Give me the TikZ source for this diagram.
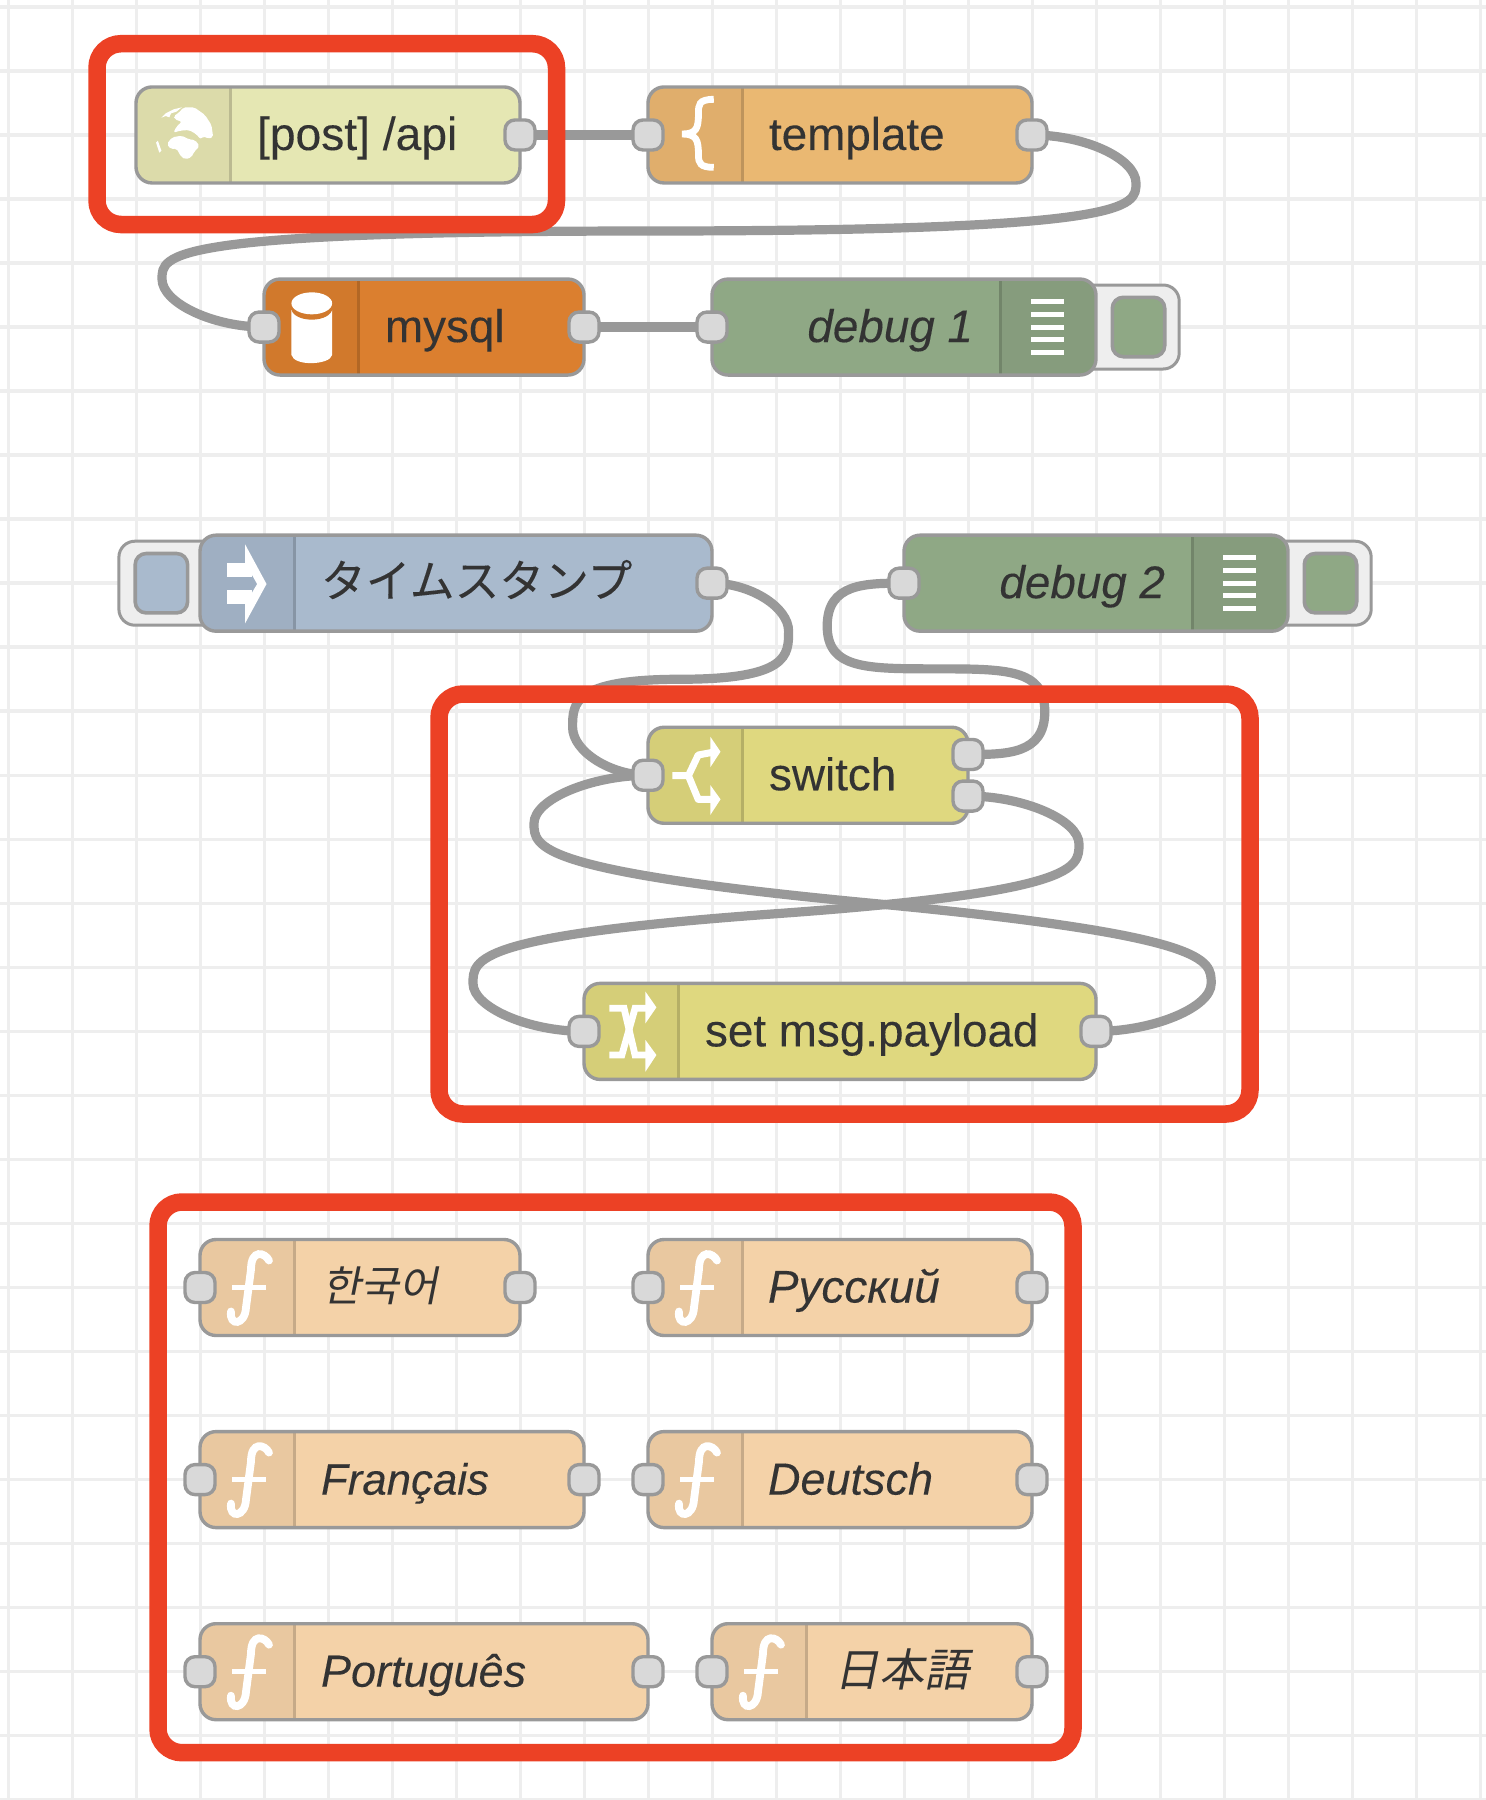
\documentclass[tikz,border=0pt]{standalone}
\usepackage{fontspec}
\setmainfont[FakeBold=0.15]{Liberation Sans}
\newfontfamily\jpfont[FakeBold=0.1]{Noto Sans CJK JP}
\newfontfamily\jpslant[FakeSlant=0.2]{Noto Sans CJK JP}
\newfontfamily\krslant[FakeSlant=0.2]{Noto Sans CJK KR}
\pgfdeclarelayer{gridlayer}\pgfdeclarelayer{wirelayer}\pgfdeclarelayer{toplayer}
\pgfsetlayers{gridlayer,wirelayer,main,toplayer}
\definecolor{gridc}{HTML}{EEEEEE}
\definecolor{linec}{HTML}{999999}
\definecolor{portc}{HTML}{D9D9D9}
\definecolor{redc}{HTML}{EC4125}
\definecolor{textc}{HTML}{333333}
\definecolor{apiB}{HTML}{E5E7B3}\definecolor{apiI}{HTML}{DCDBAA}
\definecolor{tplB}{HTML}{EAB872}\definecolor{tplI}{HTML}{E0AE6C}
\definecolor{sqlB}{HTML}{DB7F2F}\definecolor{sqlI}{HTML}{D1792C}
\definecolor{dbgB}{HTML}{8FA885}\definecolor{dbgI}{HTML}{869C7D}
\definecolor{injB}{HTML}{A9BACD}\definecolor{injI}{HTML}{9FAFC2}
\definecolor{swB}{HTML}{DFD87F}\definecolor{swI}{HTML}{D5CE78}
\definecolor{fnB}{HTML}{F4D2A8}\definecolor{fnI}{HTML}{E9C8A0}
\tikzset{
  gridline/.style={draw=gridc,line width=1.75pt},
  nodebody/.style={rectangle,rounded corners=8pt,minimum height=48pt,inner sep=0pt,outer sep=0pt},
  nodeedge/.style={draw=linec,line width=1.7pt,rounded corners=8pt},
  port/.style={rectangle,draw=linec,fill=portc,line width=1.7pt,rounded corners=5pt,minimum width=15pt,minimum height=15pt,inner sep=0pt,outer sep=0pt},
  wire/.style={draw=linec,line width=4.6pt},
  redbox/.style={rectangle,draw=redc,line width=8.75pt,rounded corners=12pt,inner sep=0pt,outer sep=0pt},
  btnouter/.style={rectangle,draw=linec,fill=gridc,line width=1.5pt,rounded corners=8pt,minimum height=42pt,inner sep=0pt,outer sep=0pt},
  btninner/.style={rectangle,draw=linec,line width=1.8pt,rounded corners=5.5pt,minimum height=29.7pt,minimum width=26.2pt,inner sep=0pt,outer sep=0pt},
  lab/.style={text=textc,font=\fontsize{22.9}{27}\selectfont,inner sep=0pt,outer sep=0pt},
  lablit/.style={lab,font=\fontsize{22.5}{27}\selectfont\itshape},
  iconw/.style={draw=white,line width=3.2pt},
}
\newcommand{\nrgeom}[3]{%
  \pgfmathsetmacro\nL{8+64*#1}\pgfmathsetmacro\nR{8+64*#2}\pgfmathsetmacro\nY{6.9+64.03*#3}%
  \pgfmathsetmacro\nW{(\nR-\nL)*0.5}\pgfmathsetmacro\nC{(\nL+\nR)/2}%
  \pgfmathsetmacro\nT{\nY-48}\pgfmathsetmacro\nB{\nY+48}}
\newcommand{\nrnode}[6]{%
  \nrgeom{#2}{#3}{#4}%
  \node[nodebody,fill=#5,minimum width=\nW pt] (#1) at (\nC,\nY) {};
  \pgfmathsetmacro\nS{\nL+94.5}\pgfmathsetmacro\nE{\nL+140}%
  \begin{scope}\clip (\nL,\nT) rectangle (\nS,\nB);
    \fill[#6,rounded corners=8pt] (\nL,\nT) rectangle (\nE,\nB);\end{scope}
  \draw[#6!85!black,line width=1.5pt] (\nS,\nT) -- (\nS,\nB);
  \draw[nodeedge] (\nL,\nT) rectangle (\nR,\nB);
}
\newcommand{\nrnodeR}[6]{%
  \nrgeom{#2}{#3}{#4}%
  \node[nodebody,fill=#5,minimum width=\nW pt] (#1) at (\nC,\nY) {};
  \pgfmathsetmacro\nS{\nR-95.5}\pgfmathsetmacro\nE{\nR-140}%
  \begin{scope}\clip (\nS,\nT) rectangle (\nR,\nB);
    \fill[#6,rounded corners=8pt] (\nE,\nT) rectangle (\nR,\nB);\end{scope}
  \draw[#6!85!black,line width=1.5pt] (\nS,\nT) -- (\nS,\nB);
  \draw[nodeedge] (\nL,\nT) rectangle (\nR,\nB);
}
\newcommand{\nrfunc}[1]{%
  \begin{scope}[shift={(#1.west)}]
    \draw[draw=white,line width=3.9pt,line cap=round] (69,-27) .. controls (65,-35) and (51,-39) .. (51,-18) -- (46,20) .. controls (45,38) and (29,39) .. (31,24);
    \draw[draw=white,line width=2.4pt] (32,0) -- (66,0);
  \end{scope}}
\newcommand{\nrdebug}[1]{%
  \begin{scope}[shift={(#1.east)}]
    \foreach \b in {-25.4,-12.7,0,12.7,25.4}{\fill[white] (-65,\b-2.5) rectangle (-32,\b+2.5);}
  \end{scope}}
\begin{document}
\begin{tikzpicture}[x=0.5pt,y=-0.5pt]
\useasboundingbox (0,0) rectangle (1486,1800);
\begin{pgfonlayer}{gridlayer}
  \fill[white] (0,0) rectangle (1486,1800);
  \foreach \k in {0,...,23}{\draw[gridline] ({8.5+64.0*\k},0) -- ({8.5+64.0*\k},1800);}
  \foreach \j in {0,...,28}{\draw[gridline] (0,{6.9+64.03*\j}) -- (1486,{6.9+64.03*\j});}
\end{pgfonlayer}

% buttons
\node[btnouter,minimum width=51.5pt] (dbg1-btn) at (1127.7,327) {};
\node[btnouter,minimum width=51.5pt] (dbg2-btn) at (1319.7,583.2) {};
\node[btnouter,minimum width=51.5pt] (inj-btn) at (170.4,583.2) {};
\node[btninner,fill=dbgB] (dbg1-led) at (1138.5,327) {};
\node[btninner,fill=dbgB] (dbg2-led) at (1330.5,583.2) {};
\node[btninner,fill=injB] (inj-led) at (161.4,583.2) {};

% nodes
\nrnode{api}{2}{8}{2}{apiB}{apiI}
\nrnode{tpl}{10}{16}{2}{tplB}{tplI}
\nrnode{sql}{4}{9}{5}{sqlB}{sqlI}
\nrnodeR{dbg1}{11}{17}{5}{dbgB}{dbgI}
\nrnode{inj}{3}{11}{9}{injB}{injI}
\nrnodeR{dbg2}{14}{20}{9}{dbgB}{dbgI}
\nrnode{sw}{10}{15}{12}{swB}{swI}
\nrnode{set}{9}{17}{16}{swB}{swI}
\nrnode{fko}{3}{8}{20}{fnB}{fnI}
\nrnode{fru}{10}{16}{20}{fnB}{fnI}
\nrnode{ffr}{3}{9}{23}{fnB}{fnI}
\nrnode{fde}{10}{16}{23}{fnB}{fnI}
\nrnode{fpt}{3}{10}{26}{fnB}{fnI}
\nrnode{fja}{11}{16}{26}{fnB}{fnI}

% icons
\begin{scope}[shift={(80,20)},xscale=0.35714,yscale=0.33333]
  % globe
  \fill[white,rounded corners=1pt] (290,262) -- (320,262) -- (350,285) -- (368,315) -- (373,352) -- (358,356) -- (345,348) -- (338,358) -- (325,342) -- (305,330) -- (280,332) -- (262,338) -- (270,320) -- (285,305) -- (265,298) -- (262,288) -- (275,280) -- cycle;
  \fill[white,rounded corners=1pt] (243,372) -- (258,352) -- (285,347) -- (305,358) -- (322,360) -- (335,378) -- (320,395) -- (312,412) -- (295,418) -- (283,410) -- (270,385) -- (255,388) -- cycle;
  \fill[white] (228,293) -- (240,280) -- (262,268) -- (285,262) -- (270,275) -- (255,280) -- (250,292) -- (240,288) -- cycle;
  \fill[white] (213,368) -- (218,362) -- (228,392) -- (222,398) -- cycle;
  % cylinder
  \fill[white] (592,870) -- (592,1005) .. controls (600,1040) and (700,1035) .. (706,1005) -- (706,870) -- cycle;
  \fill[sqlI] (649,866) ellipse [x radius=57,y radius=33];
  \fill[white] (649,850) ellipse [x radius=57,y radius=33];
\end{scope}
\begin{scope}[shift={(620,60)},xscale=0.3827,yscale=0.33333]
  \draw[iconw,line width=3.4pt] (245,118) .. controls (205,118) and (205,135) .. (205,160) .. controls (205,205) and (200,222) .. (162,222) .. controls (200,222) and (205,240) .. (205,285) .. controls (205,310) and (210,322) .. (245,322);
\end{scope}
\nrdebug{dbg1}
\nrdebug{dbg2}
\begin{scope}[shift={(100,510)},xscale=0.44643,yscale=0.33333]
  \fill[white] (285,158) rectangle (340,200);
  \fill[white] (285,240) rectangle (340,283);
  \fill[white] (325,103) -- (373,222) -- (325,340) -- (325,283) -- (352,222) -- (325,158) -- cycle;
  % switch
  \draw[iconw,line width=3.5pt,line join=round] (1282,797) -- (1318,797) -- (1340,735) -- (1372,727);
  \draw[iconw,line width=3.5pt,line join=round] (1318,797) -- (1340,868) -- (1372,868);
  \fill[white] (1367,680) -- (1390,725) -- (1367,772) -- cycle;
  \fill[white] (1367,825) -- (1390,868) -- (1367,915) -- cycle;
\end{scope}
\begin{scope}[shift={(420,880)},xscale=0.54855,yscale=0.33333]
  \draw[iconw,line width=3.4pt] (345,385) -- (372,385) -- (392,525) -- (415,525);
  \draw[iconw,line width=3.4pt] (345,525) -- (368,525) -- (392,385) -- (415,385);
  \fill[white] (411,335) -- (431,382) -- (411,430) -- cycle;
  \fill[white] (411,480) -- (431,525) -- (411,575) -- cycle;
\end{scope}
\nrfunc{fko}\nrfunc{fru}\nrfunc{ffr}\nrfunc{fde}\nrfunc{fpt}\nrfunc{fja}

% ports
\node[port] (api-out) at (api.east) {};
\node[port] (tpl-in) at (tpl.west) {};
\node[port] (tpl-out) at (tpl.east) {};
\node[port] (sql-in) at (sql.west) {};
\node[port] (sql-out) at (sql.east) {};
\node[port] (dbg1-in) at (dbg1.west) {};
\node[port] (inj-out) at (inj.east) {};
\node[port] (dbg2-in) at (dbg2.west) {};
\node[port] (sw-in) at (sw.west) {};
\node[port] (sw-outa) at ([yshift=10.4pt]sw.east) {};
\node[port] (sw-outb) at ([yshift=-10.4pt]sw.east) {};
\node[port] (set-in) at (set.west) {};
\node[port] (set-out) at (set.east) {};
\foreach \n in {fko,fru,ffr,fde,fpt,fja}{
  \node[port] (\n-in) at (\n.west) {};
  \node[port] (\n-out) at (\n.east) {};
}

% labels
\node[lab,anchor=base west,font=\fontsize{23.1}{27}\selectfont] (api-t) at ([shift={(121,15)}]api.west) {[post] /api};
\node[lab,anchor=base west] (tpl-t) at ([shift={(121,15)}]tpl.west) {template};
\node[lab,anchor=base west] (sql-t) at ([shift={(121,15)}]sql.west) {mysql};
\node[lablit,anchor=base east,font=\fontsize{22.9}{27}\selectfont\itshape] (dbg1-t) at ([shift={(-123,15)}]dbg1.east) {debug 1};
\node[lablit,anchor=base east,font=\fontsize{22.9}{27}\selectfont\itshape] (dbg2-t) at ([shift={(-123,15)}]dbg2.east) {debug 2};
\node[lab,anchor=base west,font=\fontsize{22.4}{27}\selectfont] (inj-t) at ([shift={(121,14)}]inj.west) {\jpfont タイムスタンプ};
\node[lab,anchor=base west] (sw-t) at ([shift={(121,15)}]sw.west) {switch};
\node[lab,anchor=base west] (set-t) at ([shift={(121,15)}]set.west) {set msg.payload};
\node[lab,anchor=base west,font=\fontsize{21}{27}\selectfont] (fko-t) at ([shift={(122,14)}]fko.west) {\krslant 한국어};
\node[lablit,anchor=base west,font=\fontsize{22.9}{27}\selectfont\itshape] (fru-t) at ([shift={(120,15)}]fru.west) {Русский};
\node[lablit,anchor=base west,font=\fontsize{21.9}{27}\selectfont\itshape] (ffr-t) at ([shift={(121,15)}]ffr.west) {Français};
\node[lablit,anchor=base west] (fde-t) at ([shift={(120,15)}]fde.west) {Deutsch};
\node[lablit,anchor=base west] (fpt-t) at ([shift={(121,15)}]fpt.west) {Português};
\node[lab,anchor=base west,font=\fontsize{22.5}{27}\selectfont] (fja-t) at ([shift={(122,15)}]fja.west) {\jpslant 日本語};

% wires
\begin{pgfonlayer}{wirelayer}
  \draw[wire] (api-out.center) -- (tpl-in.center);
  \draw[wire] (sql-out.center) -- (dbg1-in.center);
  \draw[wire] (tpl-out.center) .. controls (1086,135) and (1136,159) .. (1136,183)
     .. controls (1136,207) and (1136,231) .. (649,231)
     .. controls (162,231) and (162,255) .. (162,279)
     .. controls (162,303) and (213,327) .. (sql-in.center);
  \draw[wire] (inj-out.center) .. controls (750.5,583.2) and (788.6,607.2) .. (788.6,631.2)
     .. controls (788.6,655.2) and (788.6,679.25) .. (680.6,679.25)
     .. controls (572.6,679.25) and (572.6,703.3) .. (572.6,727.3)
     .. controls (572.6,751.3) and (610.3,775.3) .. (sw-in.center);
  \draw[wire] (sw-outa.center) .. controls (1006.4,754.5) and (1044.8,754.5) .. (1044.8,711.7)
     .. controls (1044.8,668.9) and (1006.4,668.85) .. (936,668.85)
     .. controls (865.6,668.85) and (827.2,668.85) .. (827.2,626)
     .. controls (827.2,583.15) and (865.6,583.2) .. (dbg2-in.center);
  \draw[wire] (sw-outb.center) .. controls (1023.5,796) and (1079,820) .. (1079,844)
     .. controls (1079,868) and (1079,892) .. (776,913.7)
     .. controls (473,935.4) and (473,959.4) .. (473,983.4)
     .. controls (473,1007.4) and (528.5,1031.4) .. (set-in.center);
  \draw[wire] (set-out.center) .. controls (1153.6,1031.4) and (1211.2,1007.4) .. (1211.2,983.4)
     .. controls (1211.2,959.4) and (1211.2,935.4) .. (872.6,903.35)
     .. controls (534,871.3) and (534,847.3) .. (534,823.3)
     .. controls (534,799.3) and (591,775.3) .. (sw-in.center);
\end{pgfonlayer}

% highlight boxes
\begin{pgfonlayer}{toplayer}
  \node[redbox,minimum width=229.75pt,minimum height=90.4pt] (box1) at (326.75,134.1) {};
  \node[redbox,minimum width=405.5pt,minimum height=210pt] (box2) at (844.5,904) {};
  \node[redbox,minimum width=457.5pt,minimum height=275.35pt] (box3) at (615.5,1477.35) {};
\end{pgfonlayer}
\end{tikzpicture}
\end{document}
